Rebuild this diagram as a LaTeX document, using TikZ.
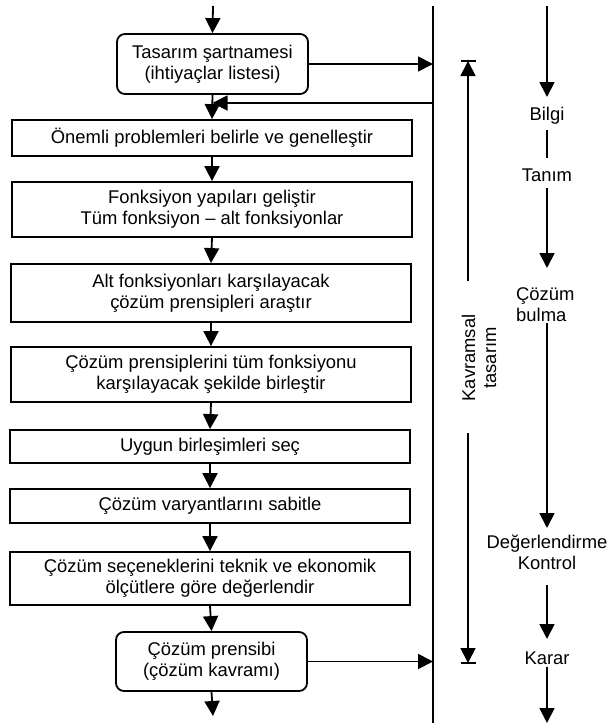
\documentclass[tikz,border=0pt]{standalone}
\usepackage{fontspec}
\setmainfont{Liberation Sans}
\usetikzlibrary{arrows.meta}
\newcommand\diafont{\fontsize{18.4pt}{21pt}\selectfont}
\begin{document}
\begin{tikzpicture}[x=1pt,y=-1pt,
  lw/.style={line width=1.8pt},
  arr/.style={lw,-{Triangle[width=15pt,length=15pt]}},
  boxbase/.style={draw,lw,inner sep=0pt,align=center,font=\diafont,text=black},
  sqbox/.style={boxbase,minimum width=400pt},
  rbox/.style={boxbase,rounded corners=8pt,minimum width=191pt,minimum height=60pt},
  lab/.style={inner sep=0pt,font=\diafont}]
\useasboundingbox (0,0) rectangle (607,723);

% main column
\node[rbox] (b1) at (212.5,64) {Tasarım şartnamesi\\(ihtiyaçlar listesi)};
\node[sqbox,minimum height=36pt] (b2) at (212,138) {Önemli problemleri belirle ve genelleştir};
\node[sqbox,minimum height=55pt] (b3) at (212,209.5) {Fonksiyon yapıları geliştir\\Tüm fonksiyon – alt fonksiyonlar};
\node[sqbox,minimum height=58pt] (b4) at (211,293) {Alt fonksiyonları karşılayacak\\çözüm prensipleri araştır};
\node[sqbox,minimum height=55pt] (b5) at (211,374.5) {Çözüm prensiplerini tüm fonksiyonu\\karşılayacak şekilde birleştir};
\node[sqbox,minimum height=33pt] (b6) at (210,446.5) {Uygun birleşimleri seç};
\node[sqbox,minimum height=34pt] (b7) at (210,506) {Çözüm varyantlarını sabitle};
\node[sqbox,minimum height=53pt] (b8) at (210,578.5) {Çözüm seçeneklerini teknik ve ekonomik\\ölçütlere göre değerlendir};
\node[rbox,minimum height=59pt] (b9) at (211.5,661.5) {Çözüm prensibi\\(çözüm kavramı)};

\coordinate (in) at (213,6);
\coordinate (out) at (213,716);
\coordinate (vt) at (433,6);
\coordinate (vb) at (433,723);
\coordinate (fb) at (433,103);

\draw[lw] (vt) -- (vb);
\draw[arr] (in) -- (b1.north);
\draw[arr] (b1.east) -- (b1.east -| vt);
\draw[arr] (fb) -- (fb -| b1.south);
\draw[arr] (b1.south) -- (b2.north);
\draw[arr] (b2.south) -- (b3.north);
\draw[arr] (b3.south) -- (b4.north);
\draw[arr] (b4.south) -- (b5.north);
\draw[arr] (b5.south) -- (b6.north);
\draw[arr] (b6.south) -- (b7.north);
\draw[arr] (b7.south) -- (b8.north);
\draw[arr] (b8.south) -- (b9.north);
\draw[arr] (b9.east) -- (b9.east -| vt);
\draw[arr] (b9.south) -- (out);

% Kavramsal tasarim
\coordinate (k1) at (468,61);
\coordinate (k2) at (468,281);
\coordinate (k3) at (468,433);
\coordinate (k4) at (468,663);
\draw[arr] (k2) -- (k1);
\draw[arr] (k3) -- (k4);
\draw[lw] ([xshift=-7.5pt]k1) -- ([xshift=7.5pt]k1);
\draw[lw] ([xshift=-7.5pt]k4) -- ([xshift=7.5pt]k4);
\node[lab,rotate=90,align=center] (kt) at (479,358) {Kavramsal\\tasarım};

% right column
\node[lab,anchor=base] (bilgi) at (547,120) {Bilgi};
\node[lab,anchor=base] (tanim) at (547,181) {Tanım};
\node[lab,anchor=north west,align=left] (cozum) at (516,287) {Çözüm\\bulma};
\node[lab,anchor=north,align=center] (deger) at (547,535) {Değerlendirme\\Kontrol};
\node[lab,anchor=base] (karar) at (547,664) {Karar};

\coordinate (r0) at (547,6);
\coordinate (r1) at (547,97);
\coordinate (r2) at (547,130);
\coordinate (r3) at (547,158);
\coordinate (r4) at (547,188);
\coordinate (r5) at (547,268);
\coordinate (r6) at (547,323);
\coordinate (r7) at (547,528);
\coordinate (r8) at (547,585);
\coordinate (r9) at (547,639);
\coordinate (r10) at (547,667);
\coordinate (r11) at (547,723);
\draw[arr] (r0) -- (r1);
\draw[lw] (r2) -- (r3);
\draw[arr] (r4) -- (r5);
\draw[arr] (r6) -- (r7);
\draw[arr] (r8) -- (r9);
\draw[arr] (r10) -- (r11);
\end{tikzpicture}
\end{document}
